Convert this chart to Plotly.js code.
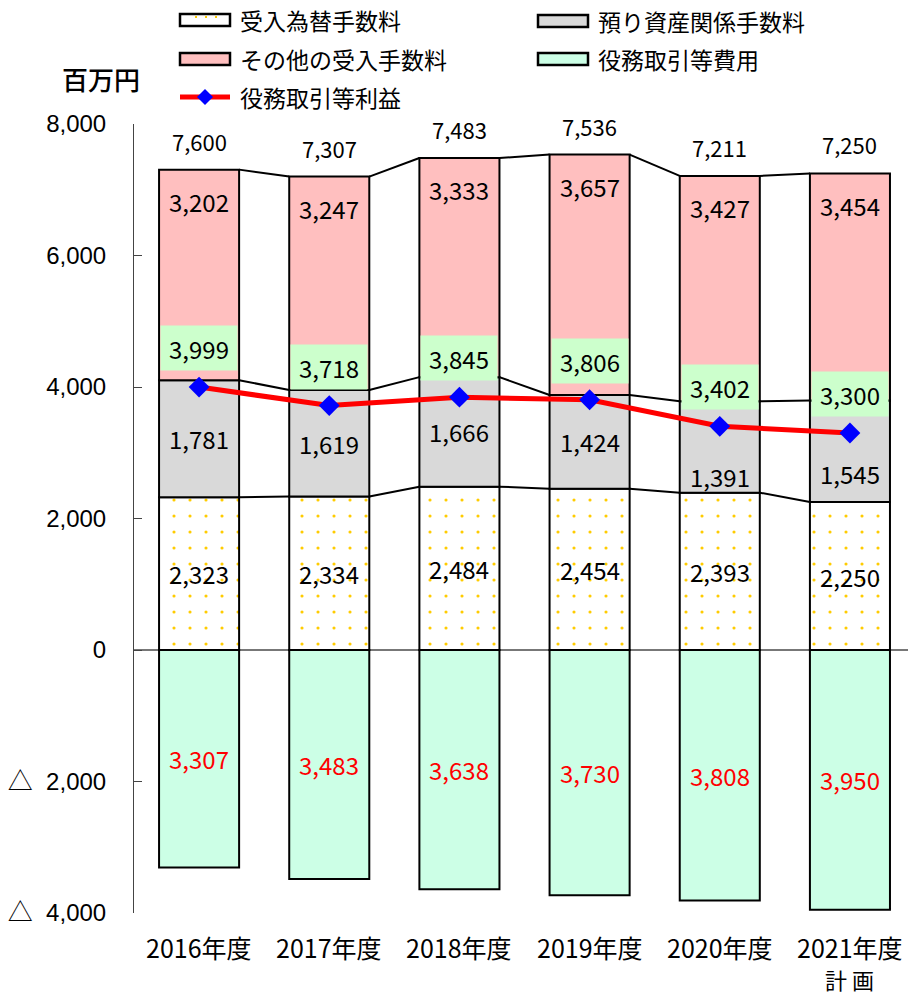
<!DOCTYPE html>
<html><head><meta charset="utf-8">
<script src="https://cdn.plot.ly/plotly-3.0.1.min.js"></script>
<style>html,body{margin:0;padding:0;background:#fff}</style>
</head><body>
<div id="chart" style="width:908px;height:996px"></div>
<script>
// ---- data ----
var years = ['2016年度','2017年度','2018年度','2019年度','2020年度','2021年度<br>計 画'];
var kawase = [2323, 2334, 2484, 2454, 2393, 2250];      // 受入為替手数料
var azukari = [1781, 1619, 1666, 1424, 1391, 1545];     // 預り資産関係手数料
var sonota = [3202, 3247, 3333, 3657, 3427, 3454];      // その他の受入手数料
var hiyou = [3307, 3483, 3638, 3730, 3808, 3950];       // 役務取引等費用
var rieki = [3999, 3718, 3845, 3806, 3402, 3300];       // 役務取引等利益
var totalLabels = ['7,600','7,307','7,483','7,536','7,211','7,250'];
var yTickVals = [-4000,-2000,0,2000,4000,6000,8000];
var TRI = '<span style="font-family:\'Noto Sans CJK JP\';font-size:25px">△</span>&nbsp;&nbsp;';
var yTickText = [TRI+'4,000', TRI+'2,000','0','2,000','4,000','6,000','8,000'];
var seriesNames = ['受入為替手数料','預り資産関係手数料','その他の受入手数料','役務取引等費用','役務取引等利益'];

// ---- style ----
var JP = '"Noto Sans CJK JP", "Noto Sans", sans-serif';
var C_PINK = '#ffbfbf', C_GRAY = '#d9d9d9', C_MINT = '#ccffe6', C_LBL = '#ccffcc', C_DOT = '#ffcc00';
var BW = 0.615;
var idx = years.map(function(_, i){ return i; });
var fmt = function(v){ return v.toLocaleString('en-US'); };

var L1 = kawase.slice();
var L2 = kawase.map(function(v,i){ return v + azukari[i]; });
var L3 = L2.map(function(v,i){ return v + sonota[i]; });

var barLine = {color:'#000', width:2};
var traces = [
  {type:'bar', x:idx, y:kawase, width:BW, name:seriesNames[0], showlegend:false,
   marker:{color:'#fff', line:barLine, pattern:{shape:'.', fgcolor:C_DOT, bgcolor:'#fff', size:16, solidity:0.03}}, hoverinfo:'y'},
  {type:'bar', x:idx, y:azukari, width:BW, name:seriesNames[1], showlegend:false,
   marker:{color:C_GRAY, line:barLine}, hoverinfo:'y'},
  {type:'bar', x:idx, y:sonota, width:BW, name:seriesNames[2], showlegend:false,
   marker:{color:C_PINK, line:barLine}, hoverinfo:'y'},
  {type:'bar', x:idx, y:hiyou.map(function(v){return -v;}), width:BW, name:seriesNames[3], showlegend:false,
   marker:{color:C_MINT, line:barLine}, hoverinfo:'y'}
];

// series connector lines
var cx = [], cy = [];
[L1, L2, L3].forEach(function(L){
  for (var i = 0; i < L.length - 1; i++) {
    cx.push(i + BW/2, i + 1 - BW/2, null);
    cy.push(L[i], L[i+1], null);
  }
});
traces.push({type:'scatter', mode:'lines', x:cx, y:cy, line:{color:'#000', width:2}, showlegend:false, hoverinfo:'skip'});

traces.push({type:'scatter', mode:'lines+markers', x:idx, y:rieki, name:seriesNames[4], showlegend:false,
  line:{color:'#ff0000', width:5}, marker:{symbol:'diamond', color:'#0000ff', size:16}});

// ---- annotations ----
var ann = [];
var numFont = {family:JP, size:24, color:'#000'};
var grayShift = [0, 0, 0, 0, -30, -22];
idx.forEach(function(i){
  ann.push({x:i, y:L3[i], text:totalLabels[i], showarrow:false, yanchor:'bottom', yshift:11, font:{family:JP, size:22, color:'#000'}});
  ann.push({x:i, y:L3[i], text:fmt(sonota[i]), showarrow:false, yanchor:'middle', yshift:-32, font:numFont});
  ann.push({x:i, y:(L1[i]+L2[i])/2, text:fmt(azukari[i]), showarrow:false, yanchor:'middle', yshift:grayShift[i], font:numFont});
  ann.push({x:i, y:L1[i]/2, text:fmt(kawase[i]), showarrow:false, yanchor:'middle', font:numFont});
  ann.push({x:i, y:-hiyou[i]/2, text:fmt(hiyou[i]), showarrow:false, yanchor:'middle', font:{family:JP, size:24, color:'#ff0000'}});
  ann.push({x:i, y:rieki[i], text:fmt(rieki[i]), showarrow:false, yanchor:'middle', yshift:39,
    bgcolor:C_LBL, width:76, height:44, borderpad:0, font:numFont});
  // category labels (one annotation per line for line spacing control)
  years[i].split('<br>').forEach(function(t, k){
    ann.push({x:i, xref:'x', yref:'paper', y:0, yanchor:'middle', yshift:-34 - 32*k, text:t, showarrow:false,
      font:{family:JP, size:k ? 22 : 25, color:'#000'}});
  });
});

// ---- manual legend (pixel -> paper) ----
var PL = 134, PW = 774, PB = 913, PH = 789;
function px(x){ return (x - PL) / PW; }
function py(y){ return (PB - y) / PH; }
var shapes = [];
function legBox(x0, yc, fill){
  shapes.push({type:'rect', xref:'paper', yref:'paper', x0:px(x0), x1:px(x0+50), y0:py(yc-6), y1:py(yc+6),
    fillcolor:fill, line:{color:'#000', width:2.5}});
}
legBox(180, 20, '#fff');
[196, 206, 216].forEach(function(dx){
  shapes.push({type:'rect', xref:'paper', yref:'paper', x0:px(dx-1), x1:px(dx+1), y0:py(18), y1:py(16), fillcolor:C_DOT, line:{width:0}});
});
legBox(180, 59, C_PINK);
legBox(538, 21, C_GRAY);
legBox(538, 59, C_MINT);
shapes.push({type:'line', xref:'paper', yref:'paper', x0:px(180), x1:px(230), y0:py(97), y1:py(97), line:{color:'#ff0000', width:5}});
shapes.push({type:'path', xref:'paper', yref:'paper', fillcolor:'#0000ff', line:{width:0},
  path:'M '+px(205)+' '+py(89)+' L '+px(213)+' '+py(97)+' L '+px(205)+' '+py(105)+' L '+px(197)+' '+py(97)+' Z'});
var legFont = {family:JP, size:23, color:'#000'};
[[238,20,0],[238,59,2],[238,97,4],[596,21,1],[596,59,3]].forEach(function(p){
  ann.push({xref:'paper', yref:'paper', x:px(p[0]), y:py(p[1]), xanchor:'left', yanchor:'middle', text:seriesNames[p[2]], showarrow:false, font:legFont});
});
ann.push({xref:'paper', yref:'paper', x:px(101), y:py(78), xanchor:'center', yanchor:'middle', text:'百万円', showarrow:false,
  font:{family:JP, size:26, color:'#000', weight:500}});

var layout = {
  width:908, height:996,
  margin:{l:134, r:0, t:124, b:83, pad:0},
  paper_bgcolor:'#fff', plot_bgcolor:'#fff',
  barmode:'relative',
  showlegend:false,
  xaxis:{range:[-0.5, 5.446], tickvals:idx, ticktext:idx.map(function(){return '';}), showgrid:false, zeroline:false, showline:false, ticks:'',
    fixedrange:true},
  yaxis:{range:[-4000, 8000], tickvals:yTickVals, ticktext:yTickText, showgrid:false,
    showline:true, linecolor:'#444', linewidth:1, ticks:'inside', ticklen:8, tickcolor:'#444',
    zeroline:true, zerolinecolor:'#777', zerolinewidth:2,
    tickfont:{family:'"Liberation Sans", Arial, sans-serif', size:24, color:'#000'}, ticklabelstandoff:22, fixedrange:true},
  annotations:ann,
  shapes:shapes
};
Plotly.newPlot('chart', traces, layout, {displayModeBar:false, staticPlot:true});
</script>
</body></html>
